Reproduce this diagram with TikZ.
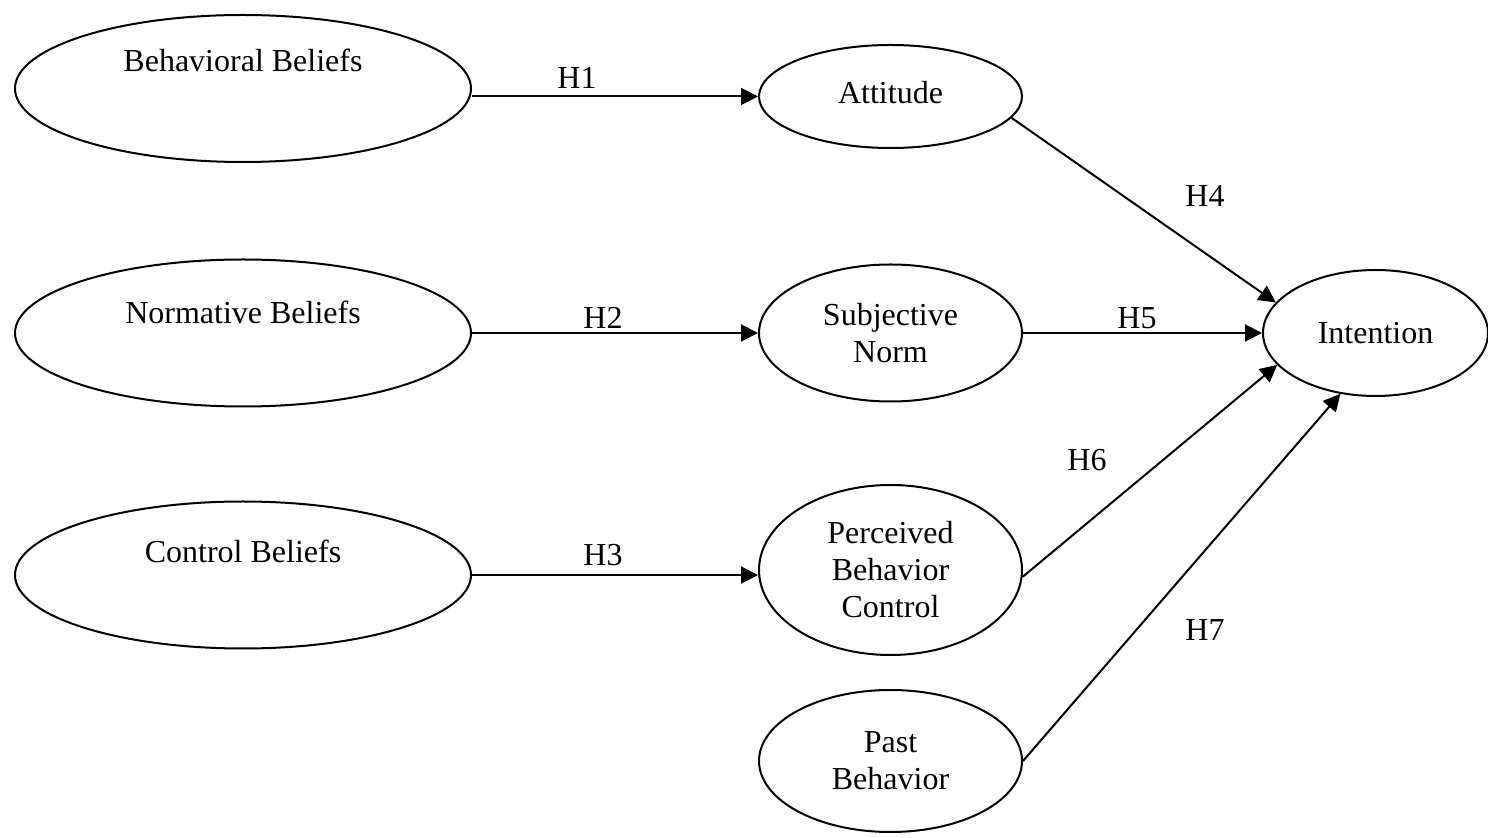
\documentclass[tikz,border=0pt]{standalone}
\usepackage{fontspec}
\setmainfont{Liberation Serif}
\usetikzlibrary{shapes.geometric,arrows.meta}

\tikzset{
  belief/.style={draw, ellipse, line width=1pt, inner sep=0pt,
    minimum width=228pt, minimum height=73.5pt},
  construct/.style={draw, ellipse, line width=1pt, inner sep=0pt,
    minimum width=131.5pt, align=center},
  path/.style={line width=1pt, -{Triangle[length=8.5pt,width=8.5pt]}},
  hyp/.style={inner sep=0pt}
}

\begin{document}
\begin{tikzpicture}[x=0.5pt, y=-0.5pt,
    every node/.style={font=\fontsize{16}{18.5}\selectfont}]

                \useasboundingbox (0,0) rectangle (1488,838);

                % beliefs
                \node[belief] (bb) at (243,88.5) {};
                \node[belief] (nb) at (243,333) {};
                \node[belief] (cb) at (243,575) {};
                \node (bbtxt) at (243,60) {Behavioral Beliefs};
                \node (nbtxt) at (243,312) {Normative Beliefs};
                \node (cbtxt) at (243,551) {Control Beliefs};

                % constructs
                \node[construct, minimum height=51.5pt] (att) at (890.5,96.5) {};
                \node (atttxt) at (890.5,93) {Attitude};
                \node[construct, minimum height=68.5pt] (sn) at (890.5,333) {Subjective\\Norm};
                \node[construct, minimum height=85pt] (pbc) at (890.5,570) {Perceived\\Behavior\\Control};
                \node[construct, minimum height=71pt] (pb) at (890.5,761) {Past\\Behavior};
                \node[construct, minimum width=112.5pt, minimum height=63pt] (int) at (1375.5,333) {Intention};

                % paths
                \draw[path] (bb.east |- att.west) -- (att.west);
                \draw[path] (nb.east) -- (sn.west);
                \draw[path] (cb.east) -- (cb.east -| pbc.west);
                \draw[path] (att.-10) -- (int.163);
                \draw[path] (sn.east) -- (int.west);
                \draw[path] (pbc.-3) -- (int.198);
                \draw[path] (pb.east) -- (int.240);

                % hypotheses
                \node[hyp] (h1) at (577,78) {H1};
                \node[hyp] (h2) at (603,318) {H2};
                \node[hyp] (h3) at (603,555) {H3};
                \node[hyp] (h4) at (1205,196) {H4};
                \node[hyp] (h5) at (1137,318) {H5};
                \node[hyp] (h6) at (1087,460) {H6};
                \node[hyp] (h7) at (1205,630) {H7};
\end{tikzpicture}
\end{document}
